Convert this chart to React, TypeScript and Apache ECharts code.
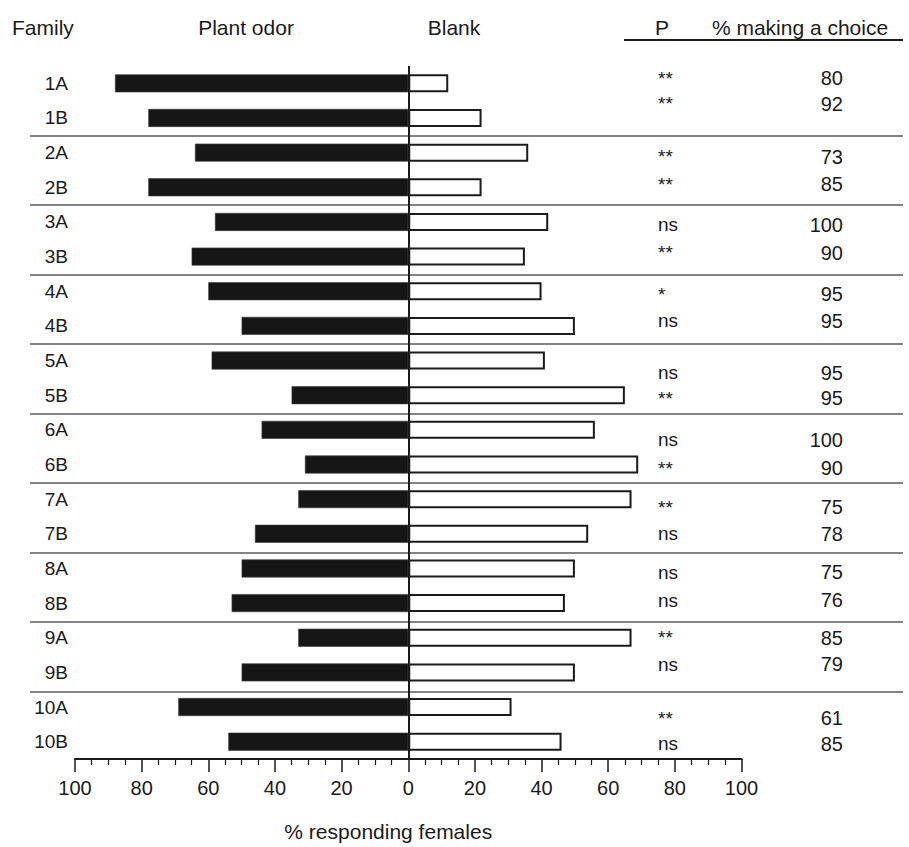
import React, { useEffect, useRef } from 'react';
import * as echarts from 'echarts';

// Families tested (two lines per family)
const families = ['1A', '1B', '2A', '2B', '3A', '3B', '4A', '4B', '5A', '5B', '6A', '6B', '7A', '7B', '8A', '8B', '9A', '9B', '10A', '10B'];
// % of responding females choosing each arm
const plantOdor = [88, 78, 64, 78, 58, 65, 60, 50, 59, 35, 44, 31, 33, 46, 50, 53, 33, 50, 69, 54];
const blank = [12, 22, 36, 22, 42, 35, 40, 50, 41, 65, 56, 69, 67, 54, 50, 47, 67, 50, 31, 46];
// significance and % of females making a choice
const pValues = ['**', '**', '**', '**', 'ns', '**', '*', 'ns', 'ns', '**', 'ns', '**', '**', 'ns', 'ns', 'ns', '**', 'ns', '**', 'ns'];
const makingChoice = [80, 92, 73, 85, 100, 90, 95, 95, 95, 95, 100, 90, 75, 78, 75, 76, 85, 79, 61, 85];

// vertical nudge (px) of each table line relative to its bar
const tableRowShift = [-5, -14, 4, -3, 3, -4, 3, -5, 12, 3, 10, 4, 8, 0, 4, -3, 0, -8, 11, 2];

const FONT = '"Liberation Sans", Arial, Helvetica, sans-serif';
const INK = '#1a1a1a';

export default function App() {
  const ref = useRef<HTMLDivElement>(null);

  useEffect(() => {
    if (!ref.current) return;
    const chart = echarts.init(ref.current, undefined, { renderer: 'svg' });

    chart.setOption({
      animation: false,
      backgroundColor: '#ffffff',
      textStyle: { fontFamily: FONT, color: INK },
      grid: [
        { left: 75, right: 167.5, top: 66, bottom: 86 },
        { left: 30, right: 6, top: 66, bottom: 86 },
      ],
      xAxis: [
        {
          type: 'value',
          gridIndex: 0,
          min: -100,
          max: 100,
          interval: 20,
          axisLine: { show: true, lineStyle: { color: INK, width: 2 } },
          axisTick: { show: true, length: 13, lineStyle: { color: INK, width: 1.5 } },
          minorTick: { show: true, splitNumber: 4, length: 6, lineStyle: { color: INK, width: 1.2 } },
          splitLine: { show: false },
          axisLabel: {
            margin: 19,
            fontSize: 20,
            fontFamily: FONT,
            color: INK,
            formatter: (v: number) => String(Math.abs(v)),
          },
          name: '% responding females',
          nameLocation: 'middle',
          nameGap: 62,
          nameTextStyle: { fontSize: 21, fontFamily: FONT, color: INK, padding: [0, 40, 0, 0] },
        },
        { type: 'value', gridIndex: 1, show: false, min: 0, max: 1 },
      ],
      yAxis: [
        {
          type: 'category',
          gridIndex: 0,
          data: families,
          inverse: true,
          axisLine: { show: false },
          axisTick: { show: false },
          splitLine: { show: false },
          axisLabel: { margin: 7, fontSize: 19, fontFamily: FONT, color: INK, padding: [0, 0, 10, 0] },
        },
        {
          type: 'category',
          gridIndex: 1,
          data: families,
          inverse: true,
          axisLine: { show: false },
          axisTick: { show: false },
          axisLabel: { show: false },
          splitLine: {
            show: true,
            showMaxLine: false,
            interval: (i: number) => i > 0 && i % 2 === 0,
            lineStyle: { color: '#5a5a5a', width: 1.5 },
          },
        },
      ],
      series: [
        {
          name: 'Plant odor',
          type: 'bar',
          stack: 'choice',
          xAxisIndex: 0,
          yAxisIndex: 0,
          barWidth: 18,
          data: plantOdor.map((v) => -v),
          itemStyle: { color: '#161616', borderColor: '#3a3a3a', borderWidth: 0.6 },
        },
        {
          name: 'Blank',
          type: 'bar',
          stack: 'choice',
          xAxisIndex: 0,
          yAxisIndex: 0,
          barWidth: 17,
          data: blank,
          itemStyle: { color: '#ffffff', borderColor: INK, borderWidth: 2 },
          markLine: {
            silent: true,
            symbol: 'none',
            label: { show: false },
            lineStyle: { color: INK, width: 2, type: 'solid' },
            data: [{ xAxis: 0 }],
          },
        },
      ],
    });

    // table beside the bars, placed on each family's row
    const rowY = families.map((f) => chart.convertToPixel({ yAxisIndex: 0 }, f) as number);
    const txt = (text: string, x: number, y: number, align: string, size = 19) => ({
      type: 'text',
      x,
      y,
      silent: true,
      style: { text, fontSize: size, fontFamily: FONT, fill: INK, align, verticalAlign: 'middle' },
    });

    const graphic: any[] = [
      txt('Family', 12, 27, 'left', 21),
      txt('Plant odor', 246, 27, 'center', 21),
      txt('Blank', 454, 27, 'center', 21),
      txt('P', 655, 27, 'left', 21),
      txt('% making a choice', 800, 27, 'center', 21),
      {
        type: 'line',
        silent: true,
        shape: { x1: 624, y1: 40, x2: 903, y2: 40 },
        style: { stroke: INK, lineWidth: 2 },
      },
    ];
    families.forEach((_, i) => {
      const y = rowY[i] + tableRowShift[i];
      graphic.push(txt(pValues[i], 658, y, 'left'));
      graphic.push(txt(String(makingChoice[i]), 843, y, 'right', 20));
    });
    chart.setOption({ graphic });

    return () => chart.dispose();
  }, []);

  return <div ref={ref} style={{ position: 'absolute', left: 0, top: 0, width: 909, height: 847 }} />;
}
